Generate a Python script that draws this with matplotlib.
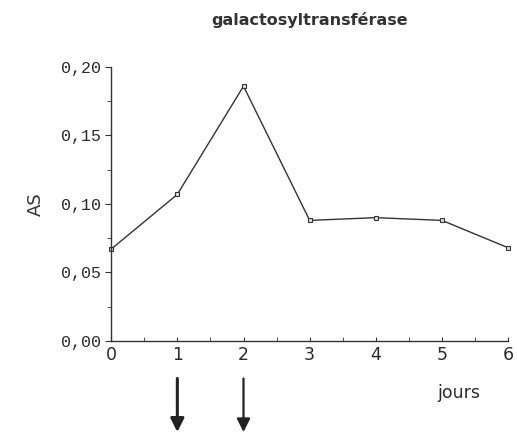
import matplotlib
matplotlib.use('Agg')
import matplotlib.pyplot as plt

# Activity (AS) of galactosyltransferase over days
jours = [0, 1, 2, 3, 4, 5, 6]
activite = [0.067, 0.107, 0.186, 0.088, 0.090, 0.088, 0.068]
fleches = [1, 2]
y_ticks = [0.00, 0.05, 0.10, 0.15, 0.20]
y_labels = ['0,00', '0,05', '0,10', '0,15', '0,20']


def main():
    fig = plt.figure(figsize=(5.17, 4.41), dpi=100)
    ax = fig.add_axes([0.215, 0.227, 0.768, 0.621])

    ax.plot(jours, activite, color='#333333', linewidth=1.0, marker='s', markersize=3.5,
            markerfacecolor='#dddddd', markeredgecolor='#333333', markeredgewidth=0.8, clip_on=False)

    ax.set_xlim(0, 6)
    ax.set_ylim(0, 0.20)
    ax.spines['top'].set_visible(False)
    ax.spines['right'].set_visible(False)
    for s in ['left', 'bottom']:
        ax.spines[s].set_color('#333333')
        ax.spines[s].set_linewidth(1.0)

    ax.set_yticks(y_ticks)
    ax.set_yticklabels(y_labels, family='Liberation Mono', fontsize=12, color='#2a2a2a')
    ax.set_yticks([0.025, 0.075, 0.125, 0.175], minor=True)
    ax.set_xticks(jours)
    ax.set_xticklabels([str(j) for j in jours], fontsize=12.5, color='#2a2a2a')
    ax.set_xticks([0.5, 1.5, 2.5, 3.5, 4.5, 5.5], minor=True)
    ax.tick_params(axis='y', which='both', direction='out', length=4, color='#333333', pad=3)
    ax.tick_params(axis='y', which='minor', length=3)
    ax.tick_params(axis='x', which='both', direction='in', length=3, color='#333333', pad=4)

    ax.set_ylabel('AS', fontsize=13, color='#333333', labelpad=12)
    ax.set_title('galactosyltransférase', fontsize=11.5, fontweight='bold', color='#333333', pad=30)

    ax.text(5.25, -0.038, 'jours', ha='center', va='center', fontsize=12.5, color='#2a2a2a',
            transform=ax.transData, clip_on=False)

    for x in fleches:
        ax.annotate('', xy=(x, 0.014), xycoords=('data', 'figure fraction'),
                    xytext=(x, 0.148), textcoords=('data', 'figure fraction'),
                    arrowprops=dict(arrowstyle='-|>', color='#222222', lw=2.2 if x == 1 else 1.6,
                                    mutation_scale=20))

    fig.savefig('out.png', dpi=100)


if __name__ == "__main__":
    main()
